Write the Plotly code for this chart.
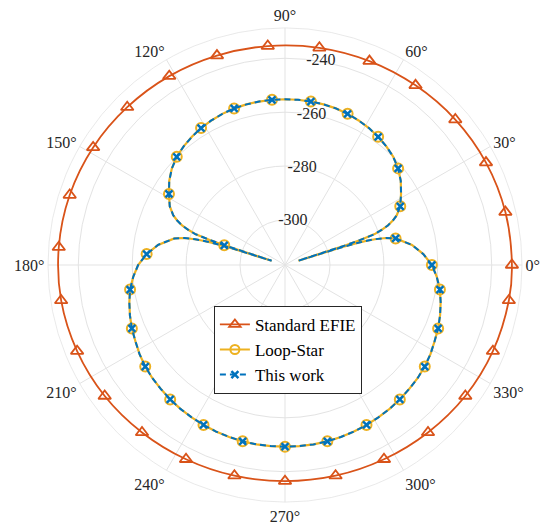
import plotly.graph_objects as go

# ---- data (dB) ----
theta_pattern = [
    0, 4.5, 9, 13.5, 15, 16, 16.5, 17, 17.4, 17.7, 18.0, 18.4, 19, 20, 21, 22.5, 24, 27,
    31.5, 36, 40.5, 45, 49.5, 54, 58.5, 63, 67.5, 72, 76.5, 81, 85.5, 90,
    94.5, 99, 103.5, 108, 112.5, 117, 121.5, 126, 130.5, 135, 139.5, 144, 148.5,
    153, 156, 157.5, 159, 160, 161, 161.6, 162, 162.3, 162.6, 163, 163.5, 164, 165,
    166.5, 171, 175.5, 180,
    184.5, 189, 193.5, 198, 202.5, 207, 211.5, 216, 220.5, 225, 229.5, 234, 238.5,
    243, 247.5, 252, 256.5, 261, 265.5, 270, 274.5, 279, 283.5, 288, 292.5, 297,
    301.5, 306, 310.5, 315, 319.5, 324, 328.5, 333, 337.5, 342, 346.5, 351, 355.5, 360,
]
loop_star = [
    -262.2, -265.2, -269.0, -274.5, -278.0, -282.0, -285.0, -289.0, -295.0, -311.5, -293.0, -287.5, -281.5, -278.5, -275.8, -273.3, -271.3, -268.7,
    -266.2, -263.6, -261.5, -259.9, -258.8, -257.9, -257.1, -256.5, -256.0, -255.6, -255.4, -255.3, -255.2, -255.2,
    -255.2, -255.3, -255.4, -255.6, -256.0, -256.5, -257.1, -257.9, -258.8, -259.9, -261.5, -263.6, -266.2,
    -268.7, -271.3, -273.3, -275.8, -278.5, -281.5, -287.5, -293.0, -311.5, -295.0, -289.0, -285.0, -282.0, -278.0,
    -274.5, -269.0, -265.2, -262.2,
    -260.2, -258.5, -257.3, -256.2, -255.2, -254.4, -253.4, -252.6, -252.0, -251.6, -251.1, -250.7, -250.4,
    -250.1, -249.8, -249.6, -249.4, -249.3, -249.3, -249.3, -249.3, -249.3, -249.4, -249.6, -249.8, -250.1,
    -250.4, -250.7, -251.1, -251.6, -252.0, -252.6, -253.4, -254.4, -255.2, -256.2, -257.3, -258.5, -260.2, -262.2,
]
this_work = list(loop_star)

theta_efie = [0, 13.5, 27, 40.5, 54, 67.5, 81, 94.5, 108, 121.5, 135, 148.5, 162, 175.5,
              189, 202.5, 216, 229.5, 243, 256.5, 270, 283.5, 297, 310.5, 324, 337.5, 351, 360]
standard_efie = [-232.5, -232.6, -233.0, -233.6, -234.3, -234.8, -235.1, -235.2, -235.0, -234.5,
                 -233.9, -233.2, -232.7, -232.5, -232.6, -233.2, -234.0, -235.0, -235.8, -236.3,
                 -236.5, -236.3, -235.8, -235.0, -234.0, -233.2, -232.6, -232.5]

r_ticks = [-300, -280, -260, -240]
r_tick_labels = ["-300", "-280", "-260", "-240"]
r_label_angle = 80
r_range = [-316.7, -228.76]
angle_ticks = [0, 30, 60, 90, 120, 150, 180, 210, 240, 270, 300, 330]
angle_labels = [f"{a}°" for a in angle_ticks]

C_EFIE = "#D95319"
C_LS = "#EDB120"
C_TW = "#0072BD"
FONT = "Liberation Serif, Times New Roman, serif"

def is_marker(t):
    return abs(t / 13.5 - round(t / 13.5)) < 1e-6 and t < 359

fig = go.Figure()

# Standard EFIE
fig.add_trace(go.Scatterpolar(r=standard_efie, theta=theta_efie, mode="lines",
                              line=dict(color=C_EFIE, width=1.8, shape="spline"),
                              showlegend=False, hoverinfo="skip"))
mk = [(t, v) for t, v in zip(theta_efie, standard_efie) if is_marker(t)]
fig.add_trace(go.Scatterpolar(r=[v for _, v in mk], theta=[t for t, _ in mk], mode="markers",
                              marker=dict(symbol="triangle-up-open", size=11, color=C_EFIE,
                                          line=dict(width=1.8, color=C_EFIE)),
                              showlegend=False, hoverinfo="skip"))

# Loop-Star
fig.add_trace(go.Scatterpolar(r=loop_star, theta=theta_pattern, mode="lines",
                              line=dict(color=C_LS, width=2.2),
                              showlegend=False, hoverinfo="skip"))
mk = [(t, v) for t, v in zip(theta_pattern, loop_star) if is_marker(t)]
fig.add_trace(go.Scatterpolar(r=[v for _, v in mk], theta=[t for t, _ in mk], mode="markers",
                              marker=dict(symbol="circle-open", size=10, color=C_LS,
                                          line=dict(width=2, color=C_LS)),
                              showlegend=False, hoverinfo="skip"))

# This work
fig.add_trace(go.Scatterpolar(r=this_work, theta=theta_pattern, mode="lines",
                              line=dict(color=C_TW, width=2, dash="6px,4px"),
                              showlegend=False, hoverinfo="skip"))
mk = [(t, v) for t, v in zip(theta_pattern, this_work) if is_marker(t)]
fig.add_trace(go.Scatterpolar(r=[v for _, v in mk], theta=[t for t, _ in mk], mode="markers",
                              marker=dict(symbol="x-thin", size=7, color=C_TW,
                                          line=dict(width=2.5, color=C_TW)),
                              showlegend=False, hoverinfo="skip"))

# radial tick labels, centred on the rings along the 80 degree direction
fig.add_trace(go.Scatterpolar(r=r_ticks, theta=[r_label_angle] * len(r_ticks), mode="text",
                              text=r_tick_labels, textposition="middle center",
                              textfont=dict(family=FONT, size=16, color="#262626"),
                              showlegend=False, hoverinfo="skip", cliponaxis=False))

# legend entries
fig.add_trace(go.Scatterpolar(r=[None], theta=[None], mode="lines+markers", name="Standard EFIE",
                              line=dict(color=C_EFIE, width=1.8),
                              marker=dict(symbol="triangle-up-open", size=10, color=C_EFIE,
                                          line=dict(width=1.8, color=C_EFIE))))
fig.add_trace(go.Scatterpolar(r=[None], theta=[None], mode="lines+markers", name="Loop-Star",
                              line=dict(color=C_LS, width=2.2),
                              marker=dict(symbol="circle-open", size=9, color=C_LS,
                                          line=dict(width=2, color=C_LS))))
fig.add_trace(go.Scatterpolar(r=[None], theta=[None], mode="lines+markers", name="This work",
                              line=dict(color=C_TW, width=2, dash="6px,4px"),
                              marker=dict(symbol="x-thin", size=7, color=C_TW,
                                          line=dict(width=2.5, color=C_TW))))

fig.update_layout(
    width=548, height=525,
    margin=dict(l=48, r=26, t=28, b=23),
    paper_bgcolor="white",
    font=dict(family=FONT, color="#262626", size=15),
    polar=dict(
        domain=dict(x=[0, 1], y=[0, 1]),
        bgcolor="white",
        radialaxis=dict(range=r_range, tickvals=r_ticks, angle=80, showticklabels=False,
                        showline=False, ticks="", gridcolor="#e3e3e3", gridwidth=0.8),
        angularaxis=dict(rotation=0, direction="counterclockwise",
                         tickmode="array", tickvals=angle_ticks, ticktext=angle_labels,
                         ticks="", showline=True, linecolor="#e3e3e3", linewidth=0.8,
                         gridcolor="#e3e3e3", gridwidth=0.8,
                         tickfont=dict(family=FONT, size=16, color="#262626")),
    ),
    legend=dict(x=0.350, y=0.321, xanchor="left", yanchor="middle",
                bgcolor="white", bordercolor="#262626", borderwidth=1,
                font=dict(family=FONT, size=17, color="black"),
                tracegroupgap=0, itemwidth=30),
    showlegend=True,
)

fig.write_html("out.html", config={"displayModeBar": False},
               post_script="document.body.style.margin='0px';")
